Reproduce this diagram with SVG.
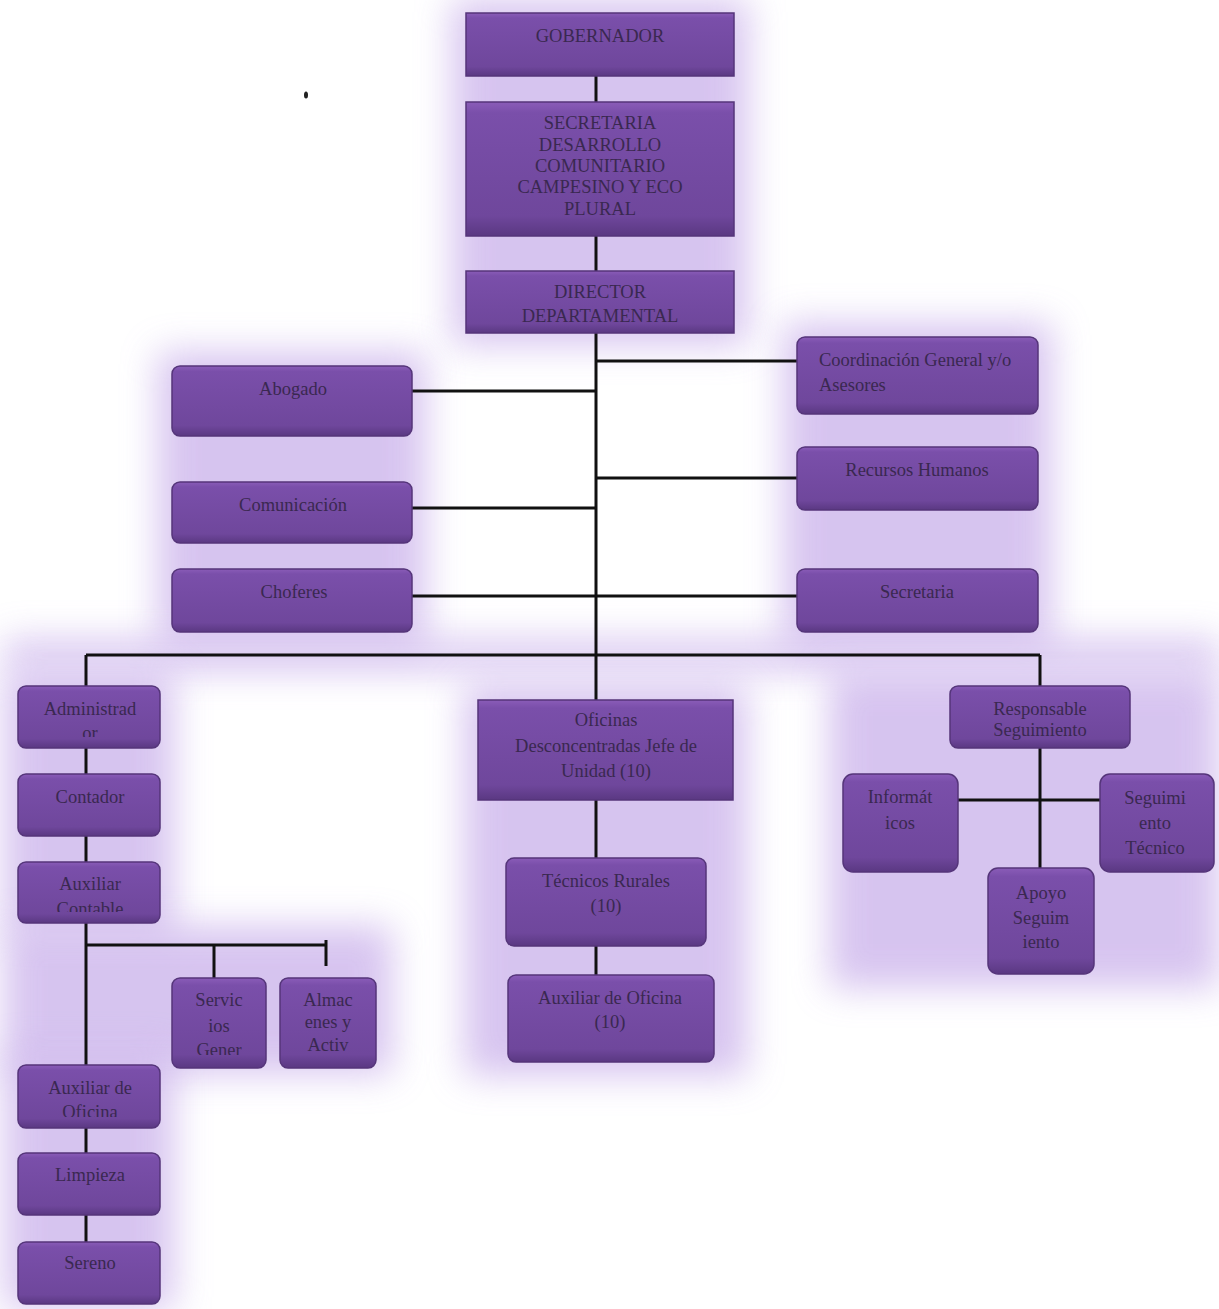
<svg xmlns="http://www.w3.org/2000/svg" width="1219" height="1309" viewBox="0 0 1219 1309">
<defs>
<linearGradient id="g" x1="0" y1="0" x2="0" y2="1">
<stop offset="0" stop-color="#8a5cb8"/>
<stop offset="0.08" stop-color="#7a4faa"/>
<stop offset="0.85" stop-color="#6f479c"/>
<stop offset="1" stop-color="#5a3882"/>
</linearGradient>
<filter id="blur" filterUnits="userSpaceOnUse" x="-100" y="-100" width="1419" height="1509">
<feGaussianBlur stdDeviation="18"/>
</filter>
<clipPath id="cAdm"><rect x="18" y="686" width="142" height="51"/></clipPath>
<clipPath id="cAuxC"><rect x="18" y="862" width="142" height="50"/></clipPath>
<clipPath id="cServ"><rect x="172" y="978" width="94" height="77"/></clipPath>
<clipPath id="cAlm"><rect x="280" y="978" width="96" height="80"/></clipPath>
<clipPath id="cAuxO"><rect x="18" y="1065" width="142" height="52"/></clipPath>
<clipPath id="cResp"><rect x="950" y="686" width="180" height="54"/></clipPath>
</defs>
<style>
.glow{fill:#cdb6ec;filter:url(#blur);opacity:0.8}
.box{fill:url(#g);stroke:#55357a;stroke-width:1.5}
.t{font-family:'Liberation Serif','DejaVu Serif',serif;font-size:18.5px;fill:#3a2850;text-anchor:middle}
.tl{text-anchor:start}
.c{stroke:#111;stroke-width:3;fill:none}
</style>
<rect width="1219" height="1309" fill="#ffffff"/>
<g id="glows">
<rect class="glow" x="452" y="0" width="296" height="345"/>
<rect class="glow" x="158" y="352" width="268" height="294"/>
<rect class="glow" x="783" y="323" width="269" height="323"/>
<rect class="glow" x="4" y="640" width="1215" height="30"/>
<rect class="glow" x="4" y="672" width="170" height="264"/>
<rect class="glow" x="4" y="926" width="388" height="148"/>
<rect class="glow" x="4" y="1051" width="170" height="258"/>
<rect class="glow" x="464" y="686" width="283" height="390"/>
<rect class="glow" x="829" y="672" width="390" height="316"/>
</g>
<g id="connectors">
<line class="c" x1="596" y1="76" x2="596" y2="102"/>
<line class="c" x1="596" y1="236" x2="596" y2="271"/>
<line class="c" x1="596" y1="333" x2="596" y2="700"/>
<line class="c" x1="596" y1="361" x2="797" y2="361"/>
<line class="c" x1="412" y1="391" x2="596" y2="391"/>
<line class="c" x1="596" y1="478" x2="797" y2="478"/>
<line class="c" x1="412" y1="508" x2="596" y2="508"/>
<line class="c" x1="412" y1="596" x2="797" y2="596"/>
<line class="c" x1="86" y1="655" x2="1040" y2="655"/>
<line class="c" x1="86" y1="655" x2="86" y2="686"/>
<line class="c" x1="1040" y1="655" x2="1040" y2="686"/>
<line class="c" x1="86" y1="748" x2="86" y2="774"/>
<line class="c" x1="86" y1="836" x2="86" y2="862"/>
<line class="c" x1="86" y1="923" x2="86" y2="1065"/>
<line class="c" x1="86" y1="945" x2="326" y2="945"/>
<line class="c" x1="214" y1="945" x2="214" y2="978"/>
<line class="c" x1="326" y1="940" x2="326" y2="966"/>
<line class="c" x1="86" y1="1128" x2="86" y2="1153"/>
<line class="c" x1="86" y1="1215" x2="86" y2="1242"/>
<line class="c" x1="596" y1="800" x2="596" y2="858"/>
<line class="c" x1="596" y1="946" x2="596" y2="975"/>
<line class="c" x1="1040" y1="748" x2="1040" y2="868"/>
<line class="c" x1="958" y1="800" x2="1100" y2="800"/>
</g>
<g id="gobernador"><rect class="box" x="466" y="13" width="268" height="63"/><text class="t" x="600" y="42">GOBERNADOR</text></g>
<g id="secretaria-desarrollo"><rect class="box" x="466" y="102" width="268" height="134"/>
<text class="t" x="600" y="129">SECRETARIA</text><text class="t" x="600" y="151">DESARROLLO</text><text class="t" x="600" y="172">COMUNITARIO</text><text class="t" x="600" y="193">CAMPESINO Y ECO</text><text class="t" x="600" y="215">PLURAL</text></g>
<g id="director"><rect class="box" x="466" y="271" width="268" height="62"/>
<text class="t" x="600" y="298">DIRECTOR</text><text class="t" x="600" y="322">DEPARTAMENTAL</text></g>
<g id="coordinacion"><rect class="box" x="797" y="337" width="241" height="77" rx="8"/>
<text class="t tl" x="819" y="366">Coordinación General y/o</text><text class="t tl" x="819" y="391">Asesores</text></g>
<g id="abogado"><rect class="box" x="172" y="366" width="240" height="70" rx="8"/><text class="t" x="293" y="395">Abogado</text></g>
<g id="recursos-humanos"><rect class="box" x="797" y="447" width="241" height="63" rx="8"/><text class="t" x="917" y="476">Recursos Humanos</text></g>
<g id="comunicacion"><rect class="box" x="172" y="482" width="240" height="61" rx="8"/><text class="t" x="293" y="511">Comunicación</text></g>
<g id="choferes"><rect class="box" x="172" y="569" width="240" height="63" rx="8"/><text class="t" x="294" y="598">Choferes</text></g>
<g id="secretaria"><rect class="box" x="797" y="569" width="241" height="63" rx="8"/><text class="t" x="917" y="598">Secretaria</text></g>
<g id="administrador"><rect class="box" x="18" y="686" width="142" height="62" rx="8"/>
<g clip-path="url(#cAdm)"><text class="t" x="90" y="715">Administrad</text><text class="t" x="90" y="739">or</text></g></g>
<g id="contador"><rect class="box" x="18" y="774" width="142" height="62" rx="8"/><text class="t" x="90" y="803">Contador</text></g>
<g id="auxiliar-contable"><rect class="box" x="18" y="862" width="142" height="61" rx="8"/>
<g clip-path="url(#cAuxC)"><text class="t" x="90" y="890">Auxiliar</text><text class="t" x="90" y="915">Contable</text></g></g>
<g id="servicios"><rect class="box" x="172" y="978" width="94" height="90" rx="8"/>
<g clip-path="url(#cServ)"><text class="t" x="219" y="1006">Servic</text><text class="t" x="219" y="1032">ios</text><text class="t" x="219" y="1056">Gener</text></g></g>
<g id="almacenes"><rect class="box" x="280" y="978" width="96" height="90" rx="8"/>
<g clip-path="url(#cAlm)"><text class="t" x="328" y="1006">Almac</text><text class="t" x="328" y="1028">enes y</text><text class="t" x="328" y="1051">Activ</text></g></g>
<g id="auxiliar-oficina"><rect class="box" x="18" y="1065" width="142" height="63" rx="8"/>
<g clip-path="url(#cAuxO)"><text class="t" x="90" y="1094">Auxiliar de</text><text class="t" x="90" y="1118">Oficina</text></g></g>
<g id="limpieza"><rect class="box" x="18" y="1153" width="142" height="62" rx="8"/><text class="t" x="90" y="1181">Limpieza</text></g>
<g id="sereno"><rect class="box" x="18" y="1242" width="142" height="62" rx="8"/><text class="t" x="90" y="1269">Sereno</text></g>
<g id="oficinas"><rect class="box" x="478" y="700" width="255" height="100"/>
<text class="t" x="606" y="726">Oficinas</text><text class="t" x="606" y="752">Desconcentradas Jefe de</text><text class="t" x="606" y="777">Unidad (10)</text></g>
<g id="tecnicos"><rect class="box" x="506" y="858" width="200" height="88" rx="8"/>
<text class="t" x="606" y="887">Técnicos Rurales</text><text class="t" x="606" y="912">(10)</text></g>
<g id="auxiliar-oficina-10"><rect class="box" x="508" y="975" width="206" height="87" rx="8"/>
<text class="t" x="610" y="1004">Auxiliar de Oficina</text><text class="t" x="610" y="1028">(10)</text></g>
<g id="responsable"><rect class="box" x="950" y="686" width="180" height="62" rx="8"/>
<g clip-path="url(#cResp)"><text class="t" x="1040" y="715">Responsable</text><text class="t" x="1040" y="736">Seguimiento</text></g></g>
<g id="informaticos"><rect class="box" x="843" y="774" width="115" height="98" rx="10"/>
<text class="t" x="900" y="803">Informát</text><text class="t" x="900" y="829">icos</text></g>
<g id="seguimiento-tecnico"><rect class="box" x="1100" y="774" width="114" height="98" rx="10"/>
<text class="t" x="1155" y="804">Seguimi</text><text class="t" x="1155" y="829">ento</text><text class="t" x="1155" y="854">Técnico</text></g>
<g id="apoyo"><rect class="box" x="988" y="868" width="106" height="106" rx="10"/>
<text class="t" x="1041" y="899">Apoyo</text><text class="t" x="1041" y="924">Seguim</text><text class="t" x="1041" y="948">iento</text></g>
<ellipse cx="306" cy="95" rx="2" ry="3.5" fill="#222"/>
</svg>
